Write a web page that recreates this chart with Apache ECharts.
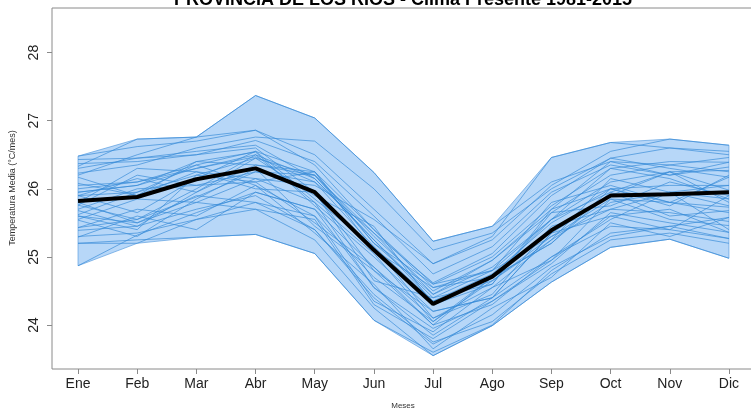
<!DOCTYPE html>
<html>
<head>
<meta charset="utf-8">
<script src="https://cdn.jsdelivr.net/npm/echarts@6/dist/echarts.min.js"></script>
<style>
  html, body { margin: 0; padding: 0; background: #fff; }
  #chart { width: 751px; height: 409px; }
</style>
</head>
<body>
<div id="chart"></div>
<script>
// Monthly mean temperature, Provincia de Los Ríos, 1981-2015
const months = ['Ene', 'Feb', 'Mar', 'Abr', 'May', 'Jun', 'Jul', 'Ago', 'Sep', 'Oct', 'Nov', 'Dic'];
const yTicks = [24, 25, 26, 27, 28];

const years = [1981, 1982, 1983, 1984, 1985, 1986, 1987, 1988, 1989, 1990,
               1991, 1992, 1993, 1994, 1995, 1996, 1997, 1998, 1999, 2000,
               2001, 2002, 2003, 2004, 2005, 2006, 2007, 2008, 2009, 2010,
               2011, 2012, 2013, 2014, 2015];

const y1981 = [25.62, 25.95, 26.35, 26.05, 25.60, 24.70, 24.05, 24.70, 25.55, 25.95, 25.60, 25.68];
const y1982 = [25.43, 25.55, 25.88, 26.25, 26.10, 25.35, 24.62, 25.05, 25.90, 26.45, 26.60, 26.55];
const y1983 = [26.48, 26.62, 26.70, 26.86, 26.35, 25.40, 24.55, 24.80, 25.30, 25.70, 25.65, 25.52];
const y1984 = [25.29, 25.60, 25.40, 25.95, 25.70, 24.55, 23.85, 24.40, 25.00, 25.55, 25.95, 25.40];
const y1985 = [25.20, 25.20, 25.55, 25.80, 25.40, 24.40, 23.72, 24.15, 24.85, 25.30, 25.45, 25.27];
const y1986 = [25.68, 25.45, 25.95, 26.45, 25.90, 25.45, 24.30, 24.60, 25.70, 26.00, 25.75, 26.20];
const y1987 = [26.23, 26.35, 26.60, 26.76, 26.70, 26.00, 25.10, 25.35, 26.00, 26.45, 26.30, 26.17];
const y1988 = [26.17, 25.90, 26.25, 26.15, 25.80, 24.55, 23.95, 24.35, 24.95, 25.60, 25.70, 25.36];
const y1989 = [24.87, 25.32, 25.65, 25.95, 25.70, 24.85, 24.10, 24.55, 25.25, 25.80, 25.95, 25.85];
const y1990 = [25.76, 26.20, 26.05, 26.10, 26.25, 25.10, 24.55, 24.70, 25.20, 25.95, 26.25, 25.98];
const y1991 = [25.90, 25.95, 26.20, 26.45, 26.20, 25.30, 24.50, 24.95, 25.65, 26.20, 26.35, 26.46];
const y1992 = [26.08, 25.90, 26.40, 26.54, 25.75, 25.00, 24.20, 24.40, 25.35, 25.90, 26.25, 25.80];
const y1993 = [25.54, 25.30, 25.85, 26.30, 25.45, 24.80, 24.20, 24.40, 25.35, 25.60, 25.40, 25.90];
const y1994 = [25.95, 26.05, 26.40, 26.35, 26.20, 25.20, 24.45, 24.85, 25.55, 26.30, 26.15, 25.85];
const y1995 = [26.30, 26.45, 26.55, 26.64, 26.15, 25.25, 24.35, 24.65, 25.30, 25.85, 25.80, 25.73];
const y1996 = [25.39, 25.45, 25.70, 25.90, 25.40, 24.45, 23.75, 24.05, 24.75, 25.25, 25.35, 25.20];
const y1997 = [25.60, 25.50, 25.80, 26.15, 26.05, 25.55, 24.90, 25.25, 26.05, 26.55, 26.73, 26.64];
const y1998 = [26.20, 26.50, 26.76, 27.37, 27.04, 26.24, 25.23, 25.45, 26.10, 26.40, 26.35, 26.25];
const y1999 = [25.80, 25.50, 25.90, 25.80, 25.60, 24.35, 23.90, 24.55, 24.95, 25.85, 25.55, 25.46];
const y2000 = [25.43, 25.70, 25.60, 26.05, 25.35, 24.60, 23.65, 24.25, 24.70, 25.50, 25.30, 25.58];
const y2001 = [25.95, 26.05, 26.30, 26.47, 26.10, 25.15, 24.35, 24.75, 25.50, 26.00, 26.05, 26.05];
const y2002 = [26.37, 26.40, 26.50, 26.71, 26.40, 25.60, 24.75, 25.15, 25.95, 26.35, 26.20, 26.39];
const y2003 = [25.80, 26.30, 26.25, 26.00, 25.95, 24.65, 24.40, 24.60, 25.65, 25.75, 26.10, 25.90];
const y2004 = [25.60, 25.40, 26.20, 26.10, 25.50, 24.85, 24.00, 24.70, 25.20, 26.00, 25.80, 25.65];
const y2005 = [25.90, 25.65, 26.15, 26.55, 25.85, 25.15, 24.10, 24.45, 25.45, 25.70, 25.95, 25.75];
const y2006 = [26.05, 26.10, 26.30, 26.50, 26.15, 25.25, 24.40, 24.80, 25.55, 26.10, 26.25, 26.27];
const y2007 = [25.30, 25.35, 25.55, 25.70, 25.25, 24.25, 23.55, 23.99, 24.63, 25.14, 25.26, 24.98];
const y2008 = [25.55, 25.85, 25.80, 25.70, 25.55, 24.30, 23.80, 24.35, 24.90, 25.65, 25.50, 25.36];
const y2009 = [25.70, 26.00, 26.05, 26.25, 26.20, 25.35, 24.45, 24.95, 25.70, 26.40, 26.20, 26.32];
const y2010 = [26.43, 26.45, 26.50, 26.60, 25.95, 24.80, 24.00, 24.30, 25.00, 25.45, 25.40, 25.27];
const y2011 = [25.20, 25.25, 25.29, 25.33, 25.05, 24.07, 23.60, 24.00, 24.80, 25.35, 25.45, 25.58];
const y2012 = [25.90, 26.15, 25.95, 26.35, 26.25, 25.20, 24.60, 24.80, 25.80, 26.05, 25.80, 26.17];
const y2013 = [25.76, 25.55, 26.00, 26.50, 25.80, 25.05, 24.05, 24.65, 25.25, 26.15, 25.95, 26.05];
const y2014 = [26.00, 26.10, 26.35, 26.55, 26.25, 25.40, 24.60, 25.00, 25.75, 26.30, 26.40, 26.39];
const y2015 = [26.33, 26.73, 26.76, 26.86, 26.50, 25.70, 24.90, 25.30, 26.46, 26.68, 26.60, 26.50];

const yearSeries = [y1981, y1982, y1983, y1984, y1985, y1986, y1987, y1988, y1989, y1990,
                    y1991, y1992, y1993, y1994, y1995, y1996, y1997, y1998, y1999, y2000,
                    y2001, y2002, y2003, y2004, y2005, y2006, y2007, y2008, y2009, y2010,
                    y2011, y2012, y2013, y2014, y2015];

// Climatological mean and the min/max envelope of the 35 years
const meanTemp = [25.82, 25.88, 26.14, 26.30, 25.95, 25.10, 24.31, 24.71, 25.39, 25.90, 25.92, 25.95];
const upperBand = [26.48, 26.73, 26.76, 27.37, 27.04, 26.24, 25.23, 25.45, 26.46, 26.68, 26.73, 26.64];
const lowerBand = [24.87, 25.20, 25.29, 25.33, 25.05, 24.07, 23.55, 23.99, 24.63, 25.14, 25.26, 24.98];

const FONT = '"Liberation Sans", Arial, Helvetica, sans-serif';
const monthNums = months.map((m, i) => i + 1);
const toPairs = arr => arr.map((v, i) => [i + 1, v]);

const chart = echarts.init(document.getElementById('chart'), null, { renderer: 'canvas' });

const series = [];

// Shaded envelope between the yearly minimum and maximum
series.push({
  type: 'custom',
  name: 'rango',
  silent: true,
  z: 1,
  data: [[1, upperBand[0]]],
  renderItem: function (params, api) {
    const pts = [];
    for (let i = 0; i < upperBand.length; i++) pts.push(api.coord([i + 1, upperBand[i]]));
    for (let i = lowerBand.length - 1; i >= 0; i--) pts.push(api.coord([i + 1, lowerBand[i]]));
    return {
      type: 'polygon',
      shape: { points: pts },
      style: { fill: '#b7d7f8', stroke: 'rgba(95,160,225,0.9)', lineWidth: 0.8 }
    };
  }
});

// One thin line per year
yearSeries.forEach((vals, k) => {
  series.push({
    type: 'line',
    name: String(years[k]),
    data: toPairs(vals),
    showSymbol: false,
    silent: true,
    z: 2,
    lineStyle: { width: 1, color: 'rgba(55,138,215,0.68)' }
  });
});

// Mean of the period
series.push({
  type: 'line',
  name: 'Media',
  data: toPairs(meanTemp),
  showSymbol: false,
  silent: true,
  z: 3,
  lineStyle: { width: 4, color: '#000' }
});

chart.setOption({
  animation: false,
  backgroundColor: '#fff',
  grid: {
    left: 52, top: 8, right: -4, bottom: 40,
    outerBoundsMode: 'none',
    containLabel: false,
    show: true, borderColor: '#8a8a8a', borderWidth: 1, backgroundColor: 'transparent'
  },
  xAxis: {
    type: 'value',
    min: 0.56, max: 12.44,
    axisLine: { show: false },
    splitLine: { show: false },
    axisTick: { show: true, inside: false, length: 5, customValues: monthNums, lineStyle: { color: '#8a8a8a' } },
    axisLabel: {
      customValues: monthNums,
      margin: 8,
      fontFamily: FONT, fontSize: 14, color: '#222',
      formatter: v => months[Math.round(v) - 1]
    }
  },
  yAxis: {
    type: 'value',
    min: 23.354, max: 28.655,
    axisLine: { show: false },
    splitLine: { show: false },
    axisTick: { show: true, inside: false, length: 5, customValues: yTicks, lineStyle: { color: '#8a8a8a' } },
    axisLabel: {
      customValues: yTicks,
      rotate: 90,
      margin: 11,
      fontFamily: FONT, fontSize: 14, color: '#222'
    }
  },
  graphic: [
    {
      type: 'text', x: 403, y: 9, silent: true,
      style: {
        text: 'PROVINCIA DE LOS RIOS - Clima Presente 1981-2015',
        font: 'bold 18px ' + FONT, fill: '#000',
        textAlign: 'center', textVerticalAlign: 'bottom', align: 'center', verticalAlign: 'bottom'
      }
    },
    {
      type: 'text', x: 13, y: 188, rotation: Math.PI / 2, silent: true,
      style: {
        text: 'Temperatura Media (°C/mes)',
        font: '9px ' + FONT, fill: '#333',
        textAlign: 'center', textVerticalAlign: 'middle', align: 'center', verticalAlign: 'middle'
      }
    },
    {
      type: 'text', x: 403, y: 406, silent: true,
      style: {
        text: 'Meses',
        font: '8px ' + FONT, fill: '#333',
        textAlign: 'center', textVerticalAlign: 'middle', align: 'center', verticalAlign: 'middle'
      }
    }
  ],
  series: series
});
</script>
</body>
</html>
